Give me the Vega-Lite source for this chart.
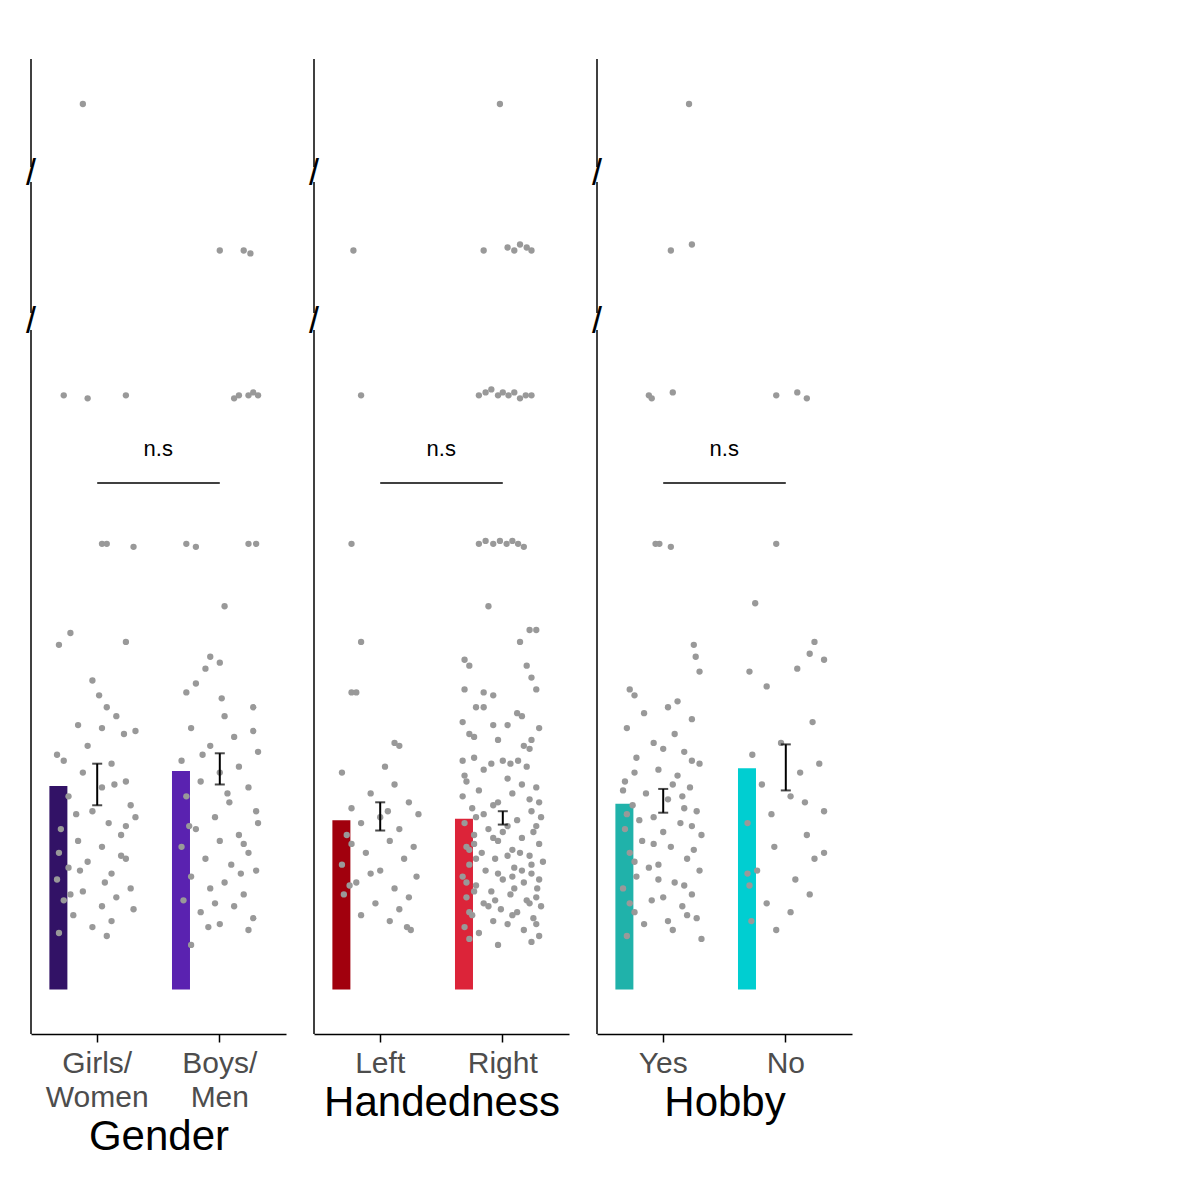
{
  "$schema": "https://vega.github.io/schema/vega-lite/v6.json",
  "padding": {"left": 25, "top": 58, "right": 10, "bottom": 5},
  "spacing": 22,
  "resolve": {"scale": {"color": "independent"}},
  "config": {
    "font": "Liberation Sans",
    "view": {"stroke": null},
    "axis": {"grid": false, "titleFontWeight": "normal", "titleColor": "black", "labelColor": "#4d4d4d", "labelFontSize": 30, "tickColor": "black", "tickSize": 8, "tickWidth": 1.5, "domainColor": "black", "domainWidth": 1.5},
    "axisX": {"labelAngle": 0, "titleFontSize": 42, "labelExpr": "split(datum.label, ' ')", "labelLineHeight": 34, "labelPadding": 6},
    "axisY": {"domain": false, "titleFontSize": 38, "labelPadding": 6}
  },
  "datasets": {
    "segs": [{"a": -1.5, "b": 22.2}, {"a": 27.9, "b": 32.3}, {"a": 57.9, "b": 61.5}],
    "brk": [{"y": 25}, {"y": 45.5}],
    "sum_g": [{"g": "Girls/ Women", "m": 6.85, "lo": 6.2, "hi": 7.6}, {"g": "Boys/ Men", "m": 7.35, "lo": 6.9, "hi": 7.95}],
    "sum_h": [{"g": "Left", "m": 5.7, "lo": 5.35, "hi": 6.3}, {"g": "Right", "m": 5.75, "lo": 5.55, "hi": 6.0}],
    "sum_b": [{"g": "Yes", "m": 6.25, "lo": 5.95, "hi": 6.75}, {"g": "No", "m": 7.45, "lo": 6.7, "hi": 8.25}],
    "pts_g": [
      {"g":"Girls/ Women","v":60,"j":-0.15},{"g":"Girls/ Women","v":20,"j":-0.35},{"g":"Girls/ Women","v":19.9,"j":-0.1},{"g":"Girls/ Women","v":20,"j":0.3},{"g":"Girls/ Women","v":15,"j":0.05},{"g":"Girls/ Women","v":15,"j":0.1},{"g":"Girls/ Women","v":14.9,"j":0.38},{"g":"Girls/ Women","v":12,"j":-0.28},{"g":"Girls/ Women","v":11.6,"j":-0.4},{"g":"Girls/ Women","v":11.7,"j":0.3},{"g":"Girls/ Women","v":10.4,"j":-0.05},{"g":"Girls/ Women","v":9.9,"j":0.02},{"g":"Girls/ Women","v":9.5,"j":0.1},{"g":"Girls/ Women","v":9.2,"j":0.2},{"g":"Girls/ Women","v":8.9,"j":-0.2},{"g":"Girls/ Women","v":8.8,"j":0.05},{"g":"Girls/ Women","v":8.7,"j":0.4},{"g":"Girls/ Women","v":8.6,"j":0.28},{"g":"Girls/ Women","v":8.2,"j":-0.1},{"g":"Girls/ Women","v":7.9,"j":-0.42},{"g":"Girls/ Women","v":7.7,"j":-0.35},{"g":"Girls/ Women","v":7.6,"j":0.15},{"g":"Girls/ Women","v":7.3,"j":-0.15},{"g":"Girls/ Women","v":7,"j":0.3},{"g":"Girls/ Women","v":6.8,"j":0.05},{"g":"Girls/ Women","v":6.5,"j":-0.3},{"g":"Girls/ Women","v":6.2,"j":0.35},{"g":"Girls/ Women","v":6,"j":-0.05},{"g":"Girls/ Women","v":5.8,"j":0.4},{"g":"Girls/ Women","v":5.6,"j":0.12},{"g":"Girls/ Women","v":5.4,"j":-0.38},{"g":"Girls/ Women","v":5.2,"j":0.25},{"g":"Girls/ Women","v":5,"j":-0.2},{"g":"Girls/ Women","v":4.8,"j":0.05},{"g":"Girls/ Women","v":4.6,"j":-0.4},{"g":"Girls/ Women","v":4.4,"j":0.3},{"g":"Girls/ Women","v":4.3,"j":-0.1},{"g":"Girls/ Women","v":4.1,"j":-0.3},{"g":"Girls/ Women","v":3.9,"j":0.15},{"g":"Girls/ Women","v":3.7,"j":-0.42},{"g":"Girls/ Women","v":3.6,"j":0.08},{"g":"Girls/ Women","v":3.4,"j":0.35},{"g":"Girls/ Women","v":3.3,"j":-0.15},{"g":"Girls/ Women","v":3.1,"j":0.2},{"g":"Girls/ Women","v":3,"j":-0.35},{"g":"Girls/ Women","v":2.8,"j":0.05},{"g":"Girls/ Women","v":2.7,"j":0.38},{"g":"Girls/ Women","v":2.5,"j":-0.25},{"g":"Girls/ Women","v":2.3,"j":0.15},{"g":"Girls/ Women","v":2.1,"j":-0.05},{"g":"Girls/ Women","v":1.9,"j":-0.4},{"g":"Girls/ Women","v":1.8,"j":0.1},{"g":"Girls/ Women","v":4.5,"j":0.25},{"g":"Girls/ Women","v":5.9,"j":-0.22},{"g":"Girls/ Women","v":6.9,"j":0.18},{"g":"Girls/ Women","v":3.2,"j":-0.28},{"g":"Girls/ Women","v":4.0,"j":-0.18},{"g":"Girls/ Women","v":5.5,"j":0.3},
      {"g":"Boys/ Men","v":30,"j":0.0},{"g":"Boys/ Men","v":30,"j":0.25},{"g":"Boys/ Men","v":29.9,"j":0.32},{"g":"Boys/ Men","v":20,"j":0.2},{"g":"Boys/ Men","v":20,"j":0.3},{"g":"Boys/ Men","v":20.1,"j":0.35},{"g":"Boys/ Men","v":19.9,"j":0.15},{"g":"Boys/ Men","v":20,"j":0.4},{"g":"Boys/ Men","v":15,"j":-0.35},{"g":"Boys/ Men","v":14.9,"j":-0.25},{"g":"Boys/ Men","v":15,"j":0.3},{"g":"Boys/ Men","v":15,"j":0.38},{"g":"Boys/ Men","v":12.9,"j":0.05},{"g":"Boys/ Men","v":11.2,"j":-0.1},{"g":"Boys/ Men","v":11,"j":0.0},{"g":"Boys/ Men","v":10.8,"j":-0.15},{"g":"Boys/ Men","v":10.3,"j":-0.25},{"g":"Boys/ Men","v":10,"j":-0.35},{"g":"Boys/ Men","v":9.8,"j":0.02},{"g":"Boys/ Men","v":9.5,"j":0.35},{"g":"Boys/ Men","v":9.2,"j":0.05},{"g":"Boys/ Men","v":8.8,"j":-0.3},{"g":"Boys/ Men","v":8.7,"j":0.35},{"g":"Boys/ Men","v":8.5,"j":0.15},{"g":"Boys/ Men","v":8.2,"j":-0.1},{"g":"Boys/ Men","v":8,"j":0.4},{"g":"Boys/ Men","v":7.7,"j":-0.4},{"g":"Boys/ Men","v":7.5,"j":0.2},{"g":"Boys/ Men","v":7.3,"j":0.0},{"g":"Boys/ Men","v":7,"j":-0.2},{"g":"Boys/ Men","v":6.8,"j":0.3},{"g":"Boys/ Men","v":6.5,"j":-0.35},{"g":"Boys/ Men","v":6.3,"j":0.1},{"g":"Boys/ Men","v":6,"j":0.38},{"g":"Boys/ Men","v":5.8,"j":-0.05},{"g":"Boys/ Men","v":5.6,"j":0.4},{"g":"Boys/ Men","v":5.4,"j":-0.25},{"g":"Boys/ Men","v":5.2,"j":0.2},{"g":"Boys/ Men","v":5,"j":0.0},{"g":"Boys/ Men","v":4.8,"j":-0.4},{"g":"Boys/ Men","v":4.6,"j":0.3},{"g":"Boys/ Men","v":4.4,"j":-0.15},{"g":"Boys/ Men","v":4.2,"j":0.12},{"g":"Boys/ Men","v":4,"j":0.38},{"g":"Boys/ Men","v":3.8,"j":-0.3},{"g":"Boys/ Men","v":3.6,"j":0.05},{"g":"Boys/ Men","v":3.4,"j":-0.1},{"g":"Boys/ Men","v":3.2,"j":0.25},{"g":"Boys/ Men","v":3,"j":-0.38},{"g":"Boys/ Men","v":2.8,"j":0.15},{"g":"Boys/ Men","v":2.6,"j":-0.2},{"g":"Boys/ Men","v":2.4,"j":0.35},{"g":"Boys/ Men","v":2.2,"j":0.0},{"g":"Boys/ Men","v":2,"j":0.3},{"g":"Boys/ Men","v":1.5,"j":-0.3},{"g":"Boys/ Men","v":2.1,"j":-0.12},{"g":"Boys/ Men","v":3.9,"j":0.22},{"g":"Boys/ Men","v":5.5,"j":-0.32},{"g":"Boys/ Men","v":6.6,"j":0.08},{"g":"Boys/ Men","v":7.9,"j":-0.18},{"g":"Boys/ Men","v":4.9,"j":0.25},{"g":"Boys/ Men","v":2.9,"j":-0.05}
    ],
    "pts_h": [
      {"g":"Left","v":30,"j":-0.28},{"g":"Left","v":20,"j":-0.2},{"g":"Left","v":15,"j":-0.3},{"g":"Left","v":11.7,"j":-0.2},{"g":"Left","v":10,"j":-0.3},{"g":"Left","v":10,"j":-0.25},{"g":"Left","v":8.3,"j":0.15},{"g":"Left","v":8.2,"j":0.2},{"g":"Left","v":7.5,"j":0.05},{"g":"Left","v":7.3,"j":-0.4},{"g":"Left","v":6.9,"j":0.15},{"g":"Left","v":6.6,"j":-0.1},{"g":"Left","v":6.3,"j":0.3},{"g":"Left","v":6.1,"j":-0.3},{"g":"Left","v":5.9,"j":0.4},{"g":"Left","v":5.8,"j":0.0},{"g":"Left","v":5.6,"j":-0.2},{"g":"Left","v":5.4,"j":0.2},{"g":"Left","v":5.2,"j":-0.35},{"g":"Left","v":5.0,"j":0.1},{"g":"Left","v":4.8,"j":0.35},{"g":"Left","v":4.6,"j":-0.15},{"g":"Left","v":4.4,"j":0.25},{"g":"Left","v":4.2,"j":-0.4},{"g":"Left","v":4.0,"j":0.0},{"g":"Left","v":3.8,"j":0.38},{"g":"Left","v":3.6,"j":-0.25},{"g":"Left","v":3.4,"j":0.15},{"g":"Left","v":3.2,"j":-0.38},{"g":"Left","v":3.1,"j":0.3},{"g":"Left","v":2.9,"j":-0.05},{"g":"Left","v":2.7,"j":0.2},{"g":"Left","v":2.5,"j":-0.2},{"g":"Left","v":2.3,"j":0.1},{"g":"Left","v":2.1,"j":0.28},{"g":"Left","v":2.0,"j":0.32},{"g":"Left","v":3.9,"j":-0.1},{"g":"Left","v":4.9,"j":-0.3},{"g":"Left","v":6.0,"j":0.08},{"g":"Left","v":3.5,"j":-0.32},
      {"g":"Right","v":60,"j":-0.03},{"g":"Right","v":30,"j":-0.2},{"g":"Right","v":30.1,"j":0.05},{"g":"Right","v":30,"j":0.12},{"g":"Right","v":30.2,"j":0.18},{"g":"Right","v":30.1,"j":0.25},{"g":"Right","v":30,"j":0.3},
      {"g":"Right","v":20,"j":-0.25},{"g":"Right","v":20.1,"j":-0.18},{"g":"Right","v":20.2,"j":-0.12},{"g":"Right","v":20,"j":-0.05},{"g":"Right","v":20.1,"j":0.0},{"g":"Right","v":20,"j":0.06},{"g":"Right","v":20.1,"j":0.12},{"g":"Right","v":19.9,"j":0.18},{"g":"Right","v":20,"j":0.24},{"g":"Right","v":20,"j":0.3},
      {"g":"Right","v":15,"j":-0.25},{"g":"Right","v":15.1,"j":-0.18},{"g":"Right","v":15,"j":-0.1},{"g":"Right","v":15.1,"j":-0.03},{"g":"Right","v":15,"j":0.04},{"g":"Right","v":15.1,"j":0.1},{"g":"Right","v":15,"j":0.16},{"g":"Right","v":14.9,"j":0.22},
      {"g":"Right","v":12.9,"j":-0.15},{"g":"Right","v":12.1,"j":0.28},{"g":"Right","v":12.1,"j":0.35},{"g":"Right","v":11.7,"j":0.18},{"g":"Right","v":11.1,"j":-0.4},{"g":"Right","v":10.9,"j":-0.35},{"g":"Right","v":10.9,"j":0.25},{"g":"Right","v":10.5,"j":0.3},{"g":"Right","v":10.1,"j":-0.4},{"g":"Right","v":10.0,"j":-0.2},{"g":"Right","v":9.9,"j":-0.1},{"g":"Right","v":10.1,"j":0.35},{"g":"Right","v":9.5,"j":-0.28},{"g":"Right","v":9.5,"j":-0.2},{"g":"Right","v":9.3,"j":0.15},{"g":"Right","v":9.2,"j":0.2},{"g":"Right","v":9.0,"j":-0.42},{"g":"Right","v":8.9,"j":-0.1},{"g":"Right","v":8.9,"j":0.05},{"g":"Right","v":8.8,"j":0.38},{"g":"Right","v":8.6,"j":-0.35},{"g":"Right","v":8.5,"j":-0.3},{"g":"Right","v":8.4,"j":-0.05},{"g":"Right","v":8.4,"j":0.3},{"g":"Right","v":8.2,"j":0.22},{"g":"Right","v":8.1,"j":0.28},{"g":"Right","v":7.7,"j":-0.42},{"g":"Right","v":7.8,"j":-0.3},{"g":"Right","v":7.6,"j":-0.12},{"g":"Right","v":7.7,"j":0.0},{"g":"Right","v":7.6,"j":0.08},{"g":"Right","v":7.7,"j":0.16},{"g":"Right","v":7.5,"j":0.25},{"g":"Right","v":7.4,"j":-0.2},{"g":"Right","v":7.2,"j":-0.4},{"g":"Right","v":7.0,"j":-0.38},{"g":"Right","v":7.1,"j":0.05},{"g":"Right","v":6.9,"j":0.2},{"g":"Right","v":6.8,"j":0.35},{"g":"Right","v":6.7,"j":-0.25},{"g":"Right","v":6.6,"j":0.1},{"g":"Right","v":6.5,"j":-0.42},{"g":"Right","v":6.4,"j":0.28},{"g":"Right","v":6.3,"j":0.38},{"g":"Right","v":6.2,"j":-0.1},{"g":"Right","v":6.1,"j":-0.32},{"g":"Right","v":6.0,"j":0.3},{"g":"Right","v":5.9,"j":-0.2},{"g":"Right","v":5.8,"j":0.4},{"g":"Right","v":5.7,"j":0.15},{"g":"Right","v":5.6,"j":-0.4},{"g":"Right","v":5.5,"j":0.05},{"g":"Right","v":5.4,"j":-0.15},{"g":"Right","v":5.3,"j":0.32},{"g":"Right","v":5.2,"j":-0.3},{"g":"Right","v":5.1,"j":0.2},{"g":"Right","v":5.0,"j":-0.05},{"g":"Right","v":4.9,"j":0.38},{"g":"Right","v":4.8,"j":-0.38},{"g":"Right","v":4.7,"j":0.1},{"g":"Right","v":4.6,"j":-0.22},{"g":"Right","v":4.5,"j":0.28},{"g":"Right","v":4.4,"j":-0.08},{"g":"Right","v":4.3,"j":0.42},{"g":"Right","v":4.2,"j":-0.35},{"g":"Right","v":4.1,"j":0.12},{"g":"Right","v":4.0,"j":-0.18},{"g":"Right","v":3.9,"j":0.3},{"g":"Right","v":3.8,"j":-0.42},{"g":"Right","v":3.7,"j":0.0},{"g":"Right","v":3.6,"j":0.22},{"g":"Right","v":3.5,"j":-0.28},{"g":"Right","v":3.4,"j":0.36},{"g":"Right","v":3.3,"j":-0.12},{"g":"Right","v":3.2,"j":0.08},{"g":"Right","v":3.1,"j":-0.38},{"g":"Right","v":3.0,"j":0.25},{"g":"Right","v":2.9,"j":-0.2},{"g":"Right","v":2.8,"j":0.4},{"g":"Right","v":2.7,"j":-0.02},{"g":"Right","v":2.6,"j":0.15},{"g":"Right","v":2.5,"j":-0.32},{"g":"Right","v":2.4,"j":0.32},{"g":"Right","v":2.3,"j":-0.1},{"g":"Right","v":2.2,"j":0.05},{"g":"Right","v":2.1,"j":-0.4},{"g":"Right","v":2.0,"j":0.22},{"g":"Right","v":1.9,"j":-0.25},{"g":"Right","v":1.8,"j":0.38},{"g":"Right","v":1.7,"j":-0.35},{"g":"Right","v":1.5,"j":-0.05},{"g":"Right","v":1.6,"j":0.3},{"g":"Right","v":5.8,"j":-0.28},{"g":"Right","v":5.3,"j":0.0},{"g":"Right","v":4.9,"j":-0.3},{"g":"Right","v":4.5,"j":0.05},{"g":"Right","v":4.2,"j":0.3},{"g":"Right","v":3.9,"j":-0.05},{"g":"Right","v":3.6,"j":-0.38},{"g":"Right","v":3.4,"j":0.12},{"g":"Right","v":3.1,"j":0.35},{"g":"Right","v":2.8,"j":-0.15},{"g":"Right","v":2.5,"j":0.1},{"g":"Right","v":2.2,"j":0.35},{"g":"Right","v":3.3,"j":-0.3},{"g":"Right","v":4.0,"j":0.2},{"g":"Right","v":4.7,"j":-0.35},{"g":"Right","v":5.5,"j":0.35},{"g":"Right","v":6.3,"j":-0.05},{"g":"Right","v":3.8,"j":0.1},{"g":"Right","v":2.9,"j":0.28},{"g":"Right","v":4.4,"j":-0.28},{"g":"Right","v":3.0,"j":-0.08},{"g":"Right","v":3.7,"j":0.38},{"g":"Right","v":5.1,"j":-0.1},{"g":"Right","v":2.6,"j":-0.35},{"g":"Right","v":4.6,"j":0.18}
    ],
    "pts_b": [
      {"g":"Yes","v":60,"j":0.27},{"g":"Yes","v":30,"j":0.08},{"g":"Yes","v":30.2,"j":0.3},{"g":"Yes","v":20,"j":-0.15},{"g":"Yes","v":19.9,"j":-0.12},{"g":"Yes","v":20.1,"j":0.1},{"g":"Yes","v":15,"j":-0.08},{"g":"Yes","v":15,"j":-0.04},{"g":"Yes","v":14.9,"j":0.08},{"g":"Yes","v":11.6,"j":0.32},{"g":"Yes","v":11.2,"j":0.34},{"g":"Yes","v":10.7,"j":0.38},{"g":"Yes","v":10.1,"j":-0.35},{"g":"Yes","v":9.9,"j":-0.3},{"g":"Yes","v":9.5,"j":0.05},{"g":"Yes","v":9.3,"j":-0.2},{"g":"Yes","v":9.1,"j":0.3},{"g":"Yes","v":8.8,"j":-0.38},{"g":"Yes","v":8.6,"j":0.12},{"g":"Yes","v":8.3,"j":-0.1},{"g":"Yes","v":8.0,"j":0.22},{"g":"Yes","v":7.8,"j":-0.28},{"g":"Yes","v":7.6,"j":0.38},{"g":"Yes","v":7.4,"j":-0.05},{"g":"Yes","v":7.2,"j":0.15},{"g":"Yes","v":7.0,"j":-0.4},{"g":"Yes","v":6.8,"j":0.28},{"g":"Yes","v":6.6,"j":-0.18},{"g":"Yes","v":6.4,"j":0.05},{"g":"Yes","v":6.2,"j":-0.32},{"g":"Yes","v":6.0,"j":0.35},{"g":"Yes","v":5.8,"j":-0.1},{"g":"Yes","v":5.6,"j":0.18},{"g":"Yes","v":5.4,"j":-0.4},{"g":"Yes","v":5.2,"j":0.4},{"g":"Yes","v":5.0,"j":-0.22},{"g":"Yes","v":4.8,"j":0.08},{"g":"Yes","v":4.6,"j":-0.35},{"g":"Yes","v":4.4,"j":0.25},{"g":"Yes","v":4.2,"j":-0.05},{"g":"Yes","v":4.0,"j":0.38},{"g":"Yes","v":3.8,"j":-0.28},{"g":"Yes","v":3.6,"j":0.12},{"g":"Yes","v":3.4,"j":-0.42},{"g":"Yes","v":3.2,"j":0.3},{"g":"Yes","v":3.0,"j":-0.12},{"g":"Yes","v":2.8,"j":0.2},{"g":"Yes","v":2.6,"j":-0.3},{"g":"Yes","v":2.4,"j":0.35},{"g":"Yes","v":2.2,"j":-0.2},{"g":"Yes","v":2.0,"j":0.1},{"g":"Yes","v":1.8,"j":-0.38},{"g":"Yes","v":1.7,"j":0.4},{"g":"Yes","v":6.5,"j":0.2},{"g":"Yes","v":5.9,"j":-0.38},{"g":"Yes","v":5.3,"j":0.0},{"g":"Yes","v":4.7,"j":0.32},{"g":"Yes","v":4.1,"j":-0.15},{"g":"Yes","v":3.5,"j":0.22},{"g":"Yes","v":2.9,"j":-0.35},{"g":"Yes","v":2.3,"j":0.05},{"g":"Yes","v":7.3,"j":-0.3},{"g":"Yes","v":8.1,"j":0.0},{"g":"Yes","v":6.9,"j":0.1},{"g":"Yes","v":5.5,"j":0.3},{"g":"Yes","v":4.3,"j":-0.3},{"g":"Yes","v":3.1,"j":0.0},{"g":"Yes","v":6.1,"j":0.22},{"g":"Yes","v":4.9,"j":-0.1},{"g":"Yes","v":3.7,"j":-0.05},{"g":"Yes","v":2.5,"j":0.25},{"g":"Yes","v":7.7,"j":0.3},{"g":"Yes","v":5.7,"j":-0.25},{"g":"Yes","v":9.7,"j":0.15},{"g":"Yes","v":6.7,"j":-0.42},
      {"g":"No","v":20,"j":-0.1},{"g":"No","v":20.1,"j":0.12},{"g":"No","v":19.9,"j":0.22},{"g":"No","v":15,"j":-0.1},{"g":"No","v":13,"j":-0.32},{"g":"No","v":11.7,"j":0.3},{"g":"No","v":11.3,"j":0.25},{"g":"No","v":11.1,"j":0.4},{"g":"No","v":10.8,"j":0.12},{"g":"No","v":10.7,"j":-0.38},{"g":"No","v":10.2,"j":-0.2},{"g":"No","v":9.0,"j":0.28},{"g":"No","v":8.3,"j":-0.05},{"g":"No","v":7.9,"j":-0.35},{"g":"No","v":7.6,"j":0.35},{"g":"No","v":7.3,"j":0.15},{"g":"No","v":6.9,"j":-0.25},{"g":"No","v":6.5,"j":0.05},{"g":"No","v":6.0,"j":0.4},{"g":"No","v":5.6,"j":-0.4},{"g":"No","v":5.2,"j":0.22},{"g":"No","v":4.8,"j":-0.12},{"g":"No","v":4.4,"j":0.3},{"g":"No","v":4.0,"j":-0.3},{"g":"No","v":3.7,"j":0.1},{"g":"No","v":3.5,"j":-0.38},{"g":"No","v":3.2,"j":0.25},{"g":"No","v":2.9,"j":-0.2},{"g":"No","v":2.6,"j":0.05},{"g":"No","v":2.3,"j":-0.36},{"g":"No","v":2.0,"j":-0.1},{"g":"No","v":5.9,"j":-0.15},{"g":"No","v":4.6,"j":0.4},{"g":"No","v":3.9,"j":-0.4},{"g":"No","v":6.3,"j":0.2}
    ]
  },
  "hconcat": [
    {
      "width": 255, "height": 975,
      "layer": [
        {"data": {"name": "sum_g"}, "mark": {"type": "bar", "width": {"band": 1}}, "encoding": {
          "x": {"field": "g", "type": "nominal", "sort": null, "title": "Gender", "scale": {"paddingInner": 0.22, "paddingOuter": 0.15}},
          "y": {"field": "m", "type": "quantitative", "axis": {"values": [0, 10, 20, 30, 60], "title": "Seconds per Object"}, "scale": {"domain": [-1.5, 22.2, 27.9, 32.3, 57.9, 61.5], "range": [975, 271, 254, 123, 108, 0], "nice": false, "zero": false}},
          "color": {"field": "g", "type": "nominal", "legend": null, "scale": {"domain": ["Girls/ Women", "Boys/ Men"], "range": ["#321266", "#5a22b0"]}}}},
        {"data": {"name": "pts_g"}, "mark": {"type": "circle", "size": 40, "color": "#999999", "opacity": 1}, "encoding": {
          "x": {"field": "g", "type": "nominal", "sort": null},
          "xOffset": {"field": "j", "type": "quantitative", "scale": {"domain": [-0.5, 0.5]}},
          "y": {"field": "v", "type": "quantitative", "axis": null}}},
        {"data": {"name": "sum_g"}, "mark": {"type": "rule", "strokeWidth": 2, "color": "black"}, "encoding": {
          "x": {"field": "g", "type": "nominal", "sort": null}, "y": {"field": "lo", "type": "quantitative", "axis": null}, "y2": {"field": "hi"}}},
        {"data": {"name": "sum_g"}, "mark": {"type": "tick", "size": 10, "thickness": 2, "color": "black"}, "encoding": {
          "x": {"field": "g", "type": "nominal", "sort": null}, "y": {"field": "lo", "type": "quantitative", "axis": null}}},
        {"data": {"name": "sum_g"}, "mark": {"type": "tick", "size": 10, "thickness": 2, "color": "black"}, "encoding": {
          "x": {"field": "g", "type": "nominal", "sort": null}, "y": {"field": "hi", "type": "quantitative", "axis": null}}},
        {"data": {"values": [{"a": "Girls/ Women", "b": "Boys/ Men", "y": 17.05}]}, "mark": {"type": "rule", "strokeWidth": 1.5, "color": "black"}, "encoding": {
          "x": {"field": "a", "type": "nominal", "sort": null}, "x2": {"field": "b"}, "y": {"field": "y", "type": "quantitative", "axis": null}}},
        {"data": {"values": [{"a": "Girls/ Women", "t": "n.s", "y": 17.8}]}, "mark": {"type": "text", "fontSize": 22, "color": "black", "baseline": "bottom", "dx": 61}, "encoding": {
          "x": {"field": "a", "type": "nominal", "sort": null}, "text": {"field": "t"}, "y": {"field": "y", "type": "quantitative", "axis": null}}},
        {"data": {"name": "segs"}, "mark": {"type": "rule", "strokeWidth": 1.5, "color": "black", "x": 0}, "encoding": {
          "y": {"field": "a", "type": "quantitative", "axis": null}, "y2": {"field": "b"}}},
        {"data": {"name": "brk"}, "mark": {"type": "text", "text": "/", "fontSize": 36, "color": "black", "x": 0}, "encoding": {
          "y": {"field": "y", "type": "quantitative", "axis": null}}}
      ]
    },
    {
      "width": 255, "height": 975,
      "layer": [
        {"data": {"name": "sum_h"}, "mark": {"type": "bar", "width": {"band": 1}}, "encoding": {
          "x": {"field": "g", "type": "nominal", "sort": null, "title": "Handedness", "scale": {"paddingInner": 0.22, "paddingOuter": 0.15}},
          "y": {"field": "m", "type": "quantitative", "axis": {"values": [0, 10, 20, 30, 60], "title": "Seconds per Object"}, "scale": {"domain": [-1.5, 22.2, 27.9, 32.3, 57.9, 61.5], "range": [975, 271, 254, 123, 108, 0], "nice": false, "zero": false}},
          "color": {"field": "g", "type": "nominal", "legend": null, "scale": {"domain": ["Left", "Right"], "range": ["#a1000d", "#dc2439"]}}}},
        {"data": {"name": "pts_h"}, "mark": {"type": "circle", "size": 40, "color": "#999999", "opacity": 1}, "encoding": {
          "x": {"field": "g", "type": "nominal", "sort": null},
          "xOffset": {"field": "j", "type": "quantitative", "scale": {"domain": [-0.5, 0.5]}},
          "y": {"field": "v", "type": "quantitative", "axis": null}}},
        {"data": {"name": "sum_h"}, "mark": {"type": "rule", "strokeWidth": 2, "color": "black"}, "encoding": {
          "x": {"field": "g", "type": "nominal", "sort": null}, "y": {"field": "lo", "type": "quantitative", "axis": null}, "y2": {"field": "hi"}}},
        {"data": {"name": "sum_h"}, "mark": {"type": "tick", "size": 10, "thickness": 2, "color": "black"}, "encoding": {
          "x": {"field": "g", "type": "nominal", "sort": null}, "y": {"field": "lo", "type": "quantitative", "axis": null}}},
        {"data": {"name": "sum_h"}, "mark": {"type": "tick", "size": 10, "thickness": 2, "color": "black"}, "encoding": {
          "x": {"field": "g", "type": "nominal", "sort": null}, "y": {"field": "hi", "type": "quantitative", "axis": null}}},
        {"data": {"values": [{"a": "Left", "b": "Right", "y": 17.05}]}, "mark": {"type": "rule", "strokeWidth": 1.5, "color": "black"}, "encoding": {
          "x": {"field": "a", "type": "nominal", "sort": null}, "x2": {"field": "b"}, "y": {"field": "y", "type": "quantitative", "axis": null}}},
        {"data": {"values": [{"a": "Left", "t": "n.s", "y": 17.8}]}, "mark": {"type": "text", "fontSize": 22, "color": "black", "baseline": "bottom", "dx": 61}, "encoding": {
          "x": {"field": "a", "type": "nominal", "sort": null}, "text": {"field": "t"}, "y": {"field": "y", "type": "quantitative", "axis": null}}},
        {"data": {"name": "segs"}, "mark": {"type": "rule", "strokeWidth": 1.5, "color": "black", "x": 0}, "encoding": {
          "y": {"field": "a", "type": "quantitative", "axis": null}, "y2": {"field": "b"}}},
        {"data": {"name": "brk"}, "mark": {"type": "text", "text": "/", "fontSize": 36, "color": "black", "x": 0}, "encoding": {
          "y": {"field": "y", "type": "quantitative", "axis": null}}}
      ]
    },
    {
      "width": 255, "height": 975,
      "layer": [
        {"data": {"name": "sum_b"}, "mark": {"type": "bar", "width": {"band": 1}}, "encoding": {
          "x": {"field": "g", "type": "nominal", "sort": null, "title": "Hobby", "scale": {"paddingInner": 0.22, "paddingOuter": 0.15}},
          "y": {"field": "m", "type": "quantitative", "axis": {"values": [0, 10, 20, 30, 60], "title": "Seconds per Object"}, "scale": {"domain": [-1.5, 22.2, 27.9, 32.3, 57.9, 61.5], "range": [975, 271, 254, 123, 108, 0], "nice": false, "zero": false}},
          "color": {"field": "g", "type": "nominal", "legend": null, "scale": {"domain": ["Yes", "No"], "range": ["#20b2aa", "#00ced1"]}}}},
        {"data": {"name": "pts_b"}, "mark": {"type": "circle", "size": 40, "color": "#999999", "opacity": 1}, "encoding": {
          "x": {"field": "g", "type": "nominal", "sort": null},
          "xOffset": {"field": "j", "type": "quantitative", "scale": {"domain": [-0.5, 0.5]}},
          "y": {"field": "v", "type": "quantitative", "axis": null}}},
        {"data": {"name": "sum_b"}, "mark": {"type": "rule", "strokeWidth": 2, "color": "black"}, "encoding": {
          "x": {"field": "g", "type": "nominal", "sort": null}, "y": {"field": "lo", "type": "quantitative", "axis": null}, "y2": {"field": "hi"}}},
        {"data": {"name": "sum_b"}, "mark": {"type": "tick", "size": 10, "thickness": 2, "color": "black"}, "encoding": {
          "x": {"field": "g", "type": "nominal", "sort": null}, "y": {"field": "lo", "type": "quantitative", "axis": null}}},
        {"data": {"name": "sum_b"}, "mark": {"type": "tick", "size": 10, "thickness": 2, "color": "black"}, "encoding": {
          "x": {"field": "g", "type": "nominal", "sort": null}, "y": {"field": "hi", "type": "quantitative", "axis": null}}},
        {"data": {"values": [{"a": "Yes", "b": "No", "y": 17.05}]}, "mark": {"type": "rule", "strokeWidth": 1.5, "color": "black"}, "encoding": {
          "x": {"field": "a", "type": "nominal", "sort": null}, "x2": {"field": "b"}, "y": {"field": "y", "type": "quantitative", "axis": null}}},
        {"data": {"values": [{"a": "Yes", "t": "n.s", "y": 17.8}]}, "mark": {"type": "text", "fontSize": 22, "color": "black", "baseline": "bottom", "dx": 61}, "encoding": {
          "x": {"field": "a", "type": "nominal", "sort": null}, "text": {"field": "t"}, "y": {"field": "y", "type": "quantitative", "axis": null}}},
        {"data": {"name": "segs"}, "mark": {"type": "rule", "strokeWidth": 1.5, "color": "black", "x": 0}, "encoding": {
          "y": {"field": "a", "type": "quantitative", "axis": null}, "y2": {"field": "b"}}},
        {"data": {"name": "brk"}, "mark": {"type": "text", "text": "/", "fontSize": 36, "color": "black", "x": 0}, "encoding": {
          "y": {"field": "y", "type": "quantitative", "axis": null}}}
      ]
    }
  ]
}
